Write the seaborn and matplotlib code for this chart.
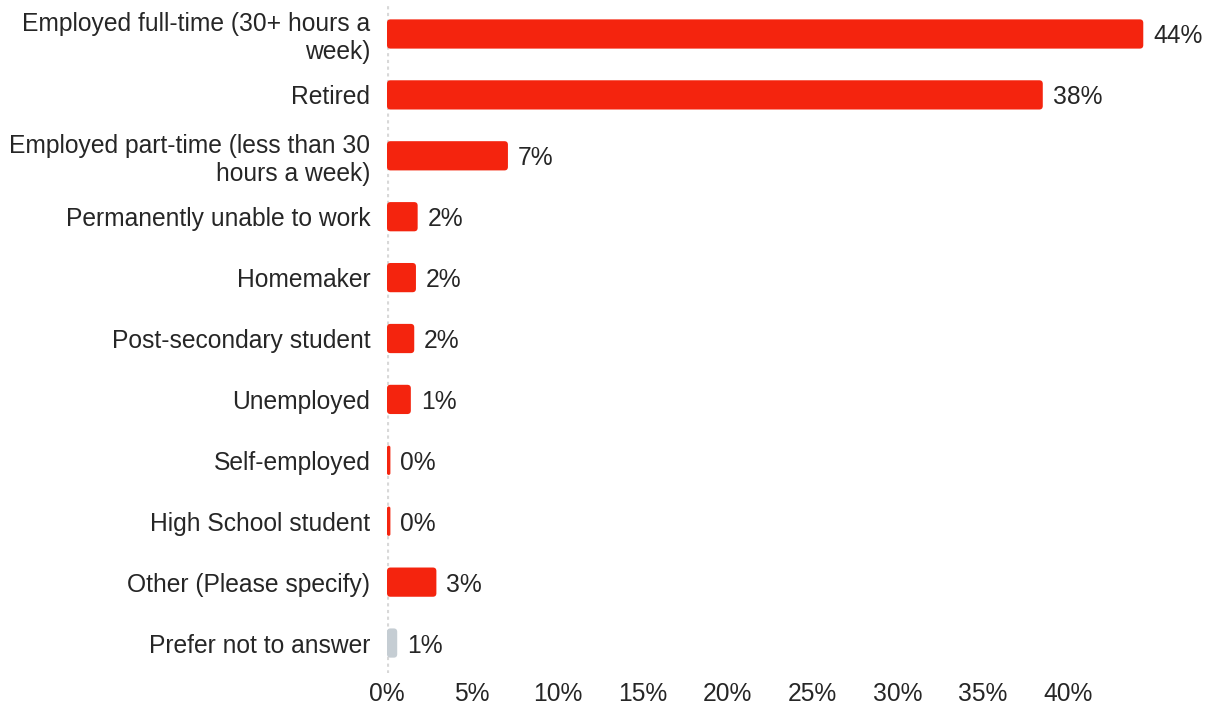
import matplotlib
matplotlib.use("Agg")
import matplotlib.pyplot as plt
from matplotlib.patches import FancyBboxPatch
import seaborn as sns
import pandas as pd

categories = [
    "Employed full-time (30+ hours a\nweek)",
    "Retired",
    "Employed part-time (less than 30\nhours a week)",
    "Permanently unable to work",
    "Homemaker",
    "Post-secondary student",
    "Unemployed",
    "Self-employed",
    "High School student",
    "Other (Please specify)",
    "Prefer not to answer",
]
shares = [44.4, 38.5, 7.1, 1.8, 1.7, 1.6, 1.4, 0.2, 0.2, 2.9, 0.6]
bar_colors = ["#F4240E"] * 10 + ["#C5CDD3"]
x_ticks = [0, 5, 10, 15, 20, 25, 30, 35, 40]

df = pd.DataFrame({"category": categories, "share": shares})

sns.set_theme(style="white")
plt.rcParams["font.family"] = ["Liberation Sans", "DejaVu Sans"]
text_color = "#262626"
fs = 17.7

fig = plt.figure(figsize=(12.12, 7.07), dpi=100)
ax = fig.add_axes([0.3193, 0.0474, 0.9447 - 0.3193, 0.995 - 0.0474])

sns.barplot(data=df, x="share", y="category", hue="category",
            palette=bar_colors, legend=False, width=0.48, ax=ax,
            orient="h", saturation=1)

ax.set_xlim(0, 44.5)
ax.set_ylim(10.5, -0.5)

# swap plain rectangles for slightly rounded ones
px_per_x = (0.9447 - 0.3193) * 1212 / 44.5
px_per_y = (0.995 - 0.0474) * 707 / 11
for p in list(ax.patches):
    x, y = p.get_x(), p.get_y()
    w, h = p.get_width(), p.get_height()
    r = min(3.5 / px_per_x, w / 2)
    aspect = (px_per_x / px_per_y)
    fb = FancyBboxPatch((x, y), w, h,
                        boxstyle=f"round,pad=0,rounding_size={r}",
                        mutation_aspect=aspect,
                        facecolor=p.get_facecolor(), edgecolor="none",
                        zorder=3)
    p.remove()
    ax.add_patch(fb)

for i, v in enumerate(shares):
    ax.text(v + 10 / px_per_x, i, f"{round(v):d}%", va="center_baseline",
            ha="left", fontsize=fs, color=text_color)

# dotted zero line
ax.axvline(0, color="#d8d8d8", lw=2.3, ls=(0, (1, 1.1)), zorder=1,
           ymin=0.0, ymax=1.0)

ax.set_xticks(x_ticks)
ax.set_xticklabels([f"{t}%" for t in x_ticks])
ax.set_xlabel("")
ax.set_ylabel("")
ax.tick_params(axis="x", length=0, pad=6, labelsize=fs, colors=text_color)
ax.tick_params(axis="y", length=0, pad=12, labelsize=fs, colors=text_color)
for lbl in ax.get_yticklabels():
    lbl.set_multialignment("right")
    lbl.set_linespacing(1.18)
for s in ax.spines.values():
    s.set_visible(False)
ax.grid(False)

fig.savefig("out.png", dpi=100)
